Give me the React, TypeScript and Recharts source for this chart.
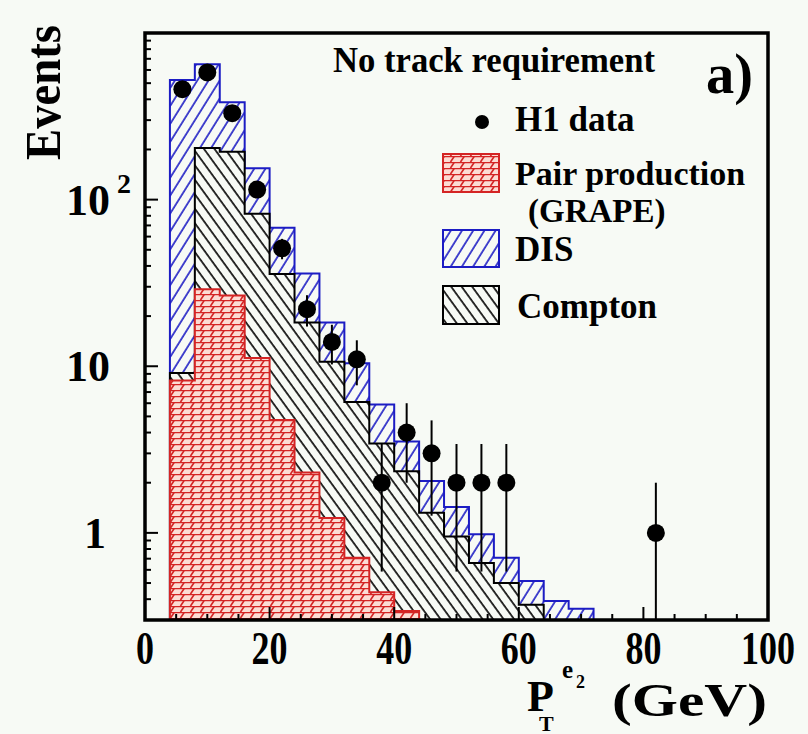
import React from 'react';
import {
  ComposedChart,
  Area,
  Scatter,
  ErrorBar,
  XAxis,
  YAxis,
  ReferenceArea,
} from 'recharts';

const BG = '#f7faf5';
const SERIF = '"Liberation Serif", "Times New Roman", Times, serif';
const BLUE = '#1c1cc4';
const RED = '#d42424';
const Y_MIN = 0.3;
const Y_MAX = 1000;

// Histogram bin edges in P_T (GeV), 4 GeV wide bins
const binEdges = [4, 8, 12, 16, 20, 24, 28, 32, 36, 40, 44, 48, 52, 56, 60, 64, 68, 72];

// Expected events per bin for each simulated process
const pairProduction = [8.2, 29, 26.6, 11.2, 4.75, 2.3, 1.23, 0.71, 0.44, 0.34, 0.24, 0.17, 0.12, 0.08, 0.06, 0.04, 0.03];
const compton = [0.9, 175, 167, 71, 31, 16, 9.4, 5.4, 3.0, 2.0, 1.08, 0.78, 0.54, 0.42, 0.31, 0.24, 0.18];
const dis = [514, 446, 191, 72, 32, 17.7, 7.7, 4.3, 2.45, 1.2, 0.73, 0.48, 0.32, 0.21, 0.145, 0.11, 0.14];

// Measured H1 events (bin centres and counts)
const dataPt = [6, 10, 14, 18, 22, 26, 30, 34, 38, 42, 46, 50, 54, 58, 82];
const dataCounts = [460, 580, 330, 115, 51, 22, 14, 11, 2, 4, 3, 2, 2, 2, 1];

// Axis ticks
const xTicks = [0, 5, 10, 15, 20, 25, 30, 35, 40, 45, 50, 55, 60, 65, 70, 75, 80, 85, 90, 95, 100];
const xMajorTicks = [0, 20, 40, 60, 80, 100];
const yMajorTicks = [1, 10, 100];
const yMinorTicks = [
  0.4, 0.5, 0.6, 0.7, 0.8, 0.9,
  2, 3, 4, 5, 6, 7, 8, 9,
  20, 30, 40, 50, 60, 70, 80, 90,
  200, 300, 400, 500, 600, 700, 800, 900,
];
const yTicks = [...yMinorTicks, ...yMajorTicks].sort((a, b) => a - b);

// Stacked step outlines: red = pair, black = pair + Compton, blue = all three
const histRows: { x: number; red: number; black: number; blue: number }[] = [
  { x: binEdges[0], red: Y_MIN, black: Y_MIN, blue: Y_MIN },
];
pairProduction.forEach((p, i) => {
  const black = p + compton[i];
  histRows.push({ x: binEdges[i], red: p, black, blue: black + dis[i] });
});
histRows.push({ x: binEdges[binEdges.length - 1], red: Y_MIN, black: Y_MIN, blue: Y_MIN });

const points = dataPt.map((x, i) => {
  const n = dataCounts[i];
  const s = Math.sqrt(n);
  return { x, n, err: [n - Math.max(n - s, Y_MIN), s] };
});

function HatchDefs({ prefix }: { prefix: string }) {
  return (
    <defs>
      <pattern id={`${prefix}-blue`} patternUnits="userSpaceOnUse" width={9.5} height={9.5} patternTransform="rotate(32)">
        <rect width={9.5} height={9.5} fill={BG} />
        <line x1={1} y1={0} x2={1} y2={9.5} stroke={BLUE} strokeWidth={1.6} />
      </pattern>
      <pattern id={`${prefix}-black`} patternUnits="userSpaceOnUse" width={8.5} height={8.5} patternTransform="rotate(-36)">
        <rect width={8.5} height={8.5} fill={BG} />
        <line x1={1} y1={0} x2={1} y2={8.5} stroke="#000" strokeWidth={1.6} />
      </pattern>
      <pattern id={`${prefix}-red`} patternUnits="userSpaceOnUse" width={10} height={6}>
        <rect width={10} height={6} fill="#fcdcd4" />
        <line x1={0} y1={0.6} x2={10} y2={0.6} stroke={RED} strokeWidth={1.3} />
        <line x1={0.5} y1={6} x2={4.5} y2={0} stroke={RED} strokeWidth={1.6} />
        <line x1={10.5} y1={6} x2={14.5} y2={0} stroke={RED} strokeWidth={1.6} />
      </pattern>
    </defs>
  );
}

function YTick(props: any) {
  const { x, y, payload } = props;
  const v = payload.value;
  const major = yMajorTicks.includes(v);
  const len = major ? 13 : 6;
  const textProps = {
    fontFamily: SERIF,
    fontWeight: 700,
    fill: '#000',
  };
  return (
    <g>
      <line x1={x} x2={x + len} y1={y} y2={y} stroke="#000" strokeWidth={2} />
      {v === 100 && (
        <>
          <text x={x - 35} y={y + 15} textAnchor="end" fontSize={44} {...textProps}>10</text>
          <text x={x - 28} y={y - 7} fontSize={28} {...textProps}>2</text>
        </>
      )}
      {v === 10 && (
        <text x={x - 35} y={y + 15} textAnchor="end" fontSize={44} {...textProps}>10</text>
      )}
      {v === 1 && (
        <text x={x - 39} y={y + 15} textAnchor="end" fontSize={44} {...textProps}>1</text>
      )}
    </g>
  );
}

function XTick(props: any) {
  const { x, y, payload } = props;
  const v = payload.value;
  const major = xMajorTicks.includes(v);
  const len = major ? 13 : 6;
  const label = String(v);
  return (
    <g>
      <line x1={x} x2={x} y1={y} y2={y - len} stroke="#000" strokeWidth={2} />
      {major && (
        <text
          x={x}
          y={y + 44}
          textAnchor="middle"
          fontSize={47}
          textLength={label.length * 18}
          lengthAdjust="spacingAndGlyphs"
          fontFamily={SERIF}
          fontWeight={700}
          fill="#000"
        >
          {label}
        </text>
      )}
    </g>
  );
}

function DataDot(props: any) {
  const { cx, cy } = props;
  if (cx == null || cy == null) return null;
  return <circle cx={cx} cy={cy} r={9} fill="#000" />;
}

const labelFont = {
  fontFamily: SERIF,
  fontWeight: 700,
  fill: '#000',
};

export default function App() {
  return (
    <div
      style={{
        position: 'absolute',
        left: 0,
        top: 0,
        width: 808,
        height: 734,
        background: BG,
        overflow: 'hidden',
      }}
    >
      <ComposedChart
        width={808}
        height={734}
        data={histRows}
        margin={{ top: 33, right: 40, bottom: 54, left: 0 }}
      >
        <HatchDefs prefix="plot" />
        <XAxis
          type="number"
          dataKey="x"
          domain={[0, 100]}
          ticks={xTicks}
          interval={0}
          allowDataOverflow
          axisLine={false}
          tickLine={false}
          tickSize={0}
          tickMargin={0}
          height={60}
          tick={<XTick />}
        />
        <YAxis
          type="number"
          scale="log"
          domain={[Y_MIN, Y_MAX]}
          ticks={yTicks}
          interval={0}
          allowDataOverflow
          axisLine={false}
          tickLine={false}
          tickSize={0}
          tickMargin={0}
          width={145}
          tick={<YTick />}
        />
        <Area
          type="stepAfter"
          dataKey="blue"
          baseValue={Y_MIN}
          stroke={BLUE}
          strokeWidth={2}
          fill="url(#plot-blue)"
          fillOpacity={1}
          isAnimationActive={false}
          dot={false}
          activeDot={false}
        />
        <Area
          type="stepAfter"
          dataKey="black"
          baseValue={Y_MIN}
          stroke="#000"
          strokeWidth={2}
          fill="url(#plot-black)"
          fillOpacity={1}
          isAnimationActive={false}
          dot={false}
          activeDot={false}
        />
        <Area
          type="stepAfter"
          dataKey="red"
          baseValue={Y_MIN}
          stroke={RED}
          strokeWidth={2}
          fill="url(#plot-red)"
          fillOpacity={1}
          isAnimationActive={false}
          dot={false}
          activeDot={false}
        />
        <Scatter data={points} dataKey="n" shape={<DataDot />} isAnimationActive={false}>
          <ErrorBar dataKey="err" direction="y" width={0} stroke="#000" strokeWidth={2} />
        </Scatter>
        <ReferenceArea
          x1={0}
          x2={100}
          y1={Y_MIN}
          y2={Y_MAX}
          fill="none"
          fillOpacity={0}
          stroke="#000"
          strokeWidth={3.5}
          ifOverflow="visible"
        />
      </ComposedChart>

      <svg
        width={808}
        height={734}
        style={{ position: 'absolute', left: 0, top: 0, pointerEvents: 'none' }}
      >
        <HatchDefs prefix="legend" />
        {/* y axis title */}
        <text
          transform="translate(60 160) rotate(-90)"
          fontSize={50}
          textLength={135}
          lengthAdjust="spacingAndGlyphs"
          {...labelFont}
        >
          Events
        </text>

        {/* x axis title */}
        <text x={527} y={711} fontSize={44} {...labelFont}>P</text>
        <text x={539} y={731} fontSize={22} {...labelFont}>T</text>
        <text x={562} y={678} fontSize={25} {...labelFont}>e</text>
        <text x={576} y={688} fontSize={18} {...labelFont}>2</text>
        <text x={612} y={716} fontSize={46} textLength={155} lengthAdjust="spacingAndGlyphs" {...labelFont}>
          (GeV)
        </text>

        {/* header */}
        <text x={333} y={72} fontSize={35} textLength={322} lengthAdjust="spacingAndGlyphs" {...labelFont}>
          No track requirement
        </text>
        <text x={706} y={93} fontSize={56} textLength={47} lengthAdjust="spacingAndGlyphs" {...labelFont}>
          a)
        </text>

        {/* legend */}
        <circle cx={482} cy={122} r={7} fill="#000" />
        <text x={515} y={131} fontSize={35} {...labelFont}>H1 data</text>

        <rect x={443} y={154} width={56} height={38} fill="url(#legend-red)" stroke={RED} strokeWidth={2} />
        <text x={515} y={185} fontSize={34} {...labelFont}>Pair production</text>
        <text x={528} y={222} fontSize={33} {...labelFont}>(GRAPE)</text>

        <rect x={443} y={230} width={56} height={37} fill="url(#legend-blue)" stroke={BLUE} strokeWidth={2} />
        <text x={515} y={261} fontSize={35} {...labelFont}>DIS</text>

        <rect x={443} y={286} width={56} height={38} fill="url(#legend-black)" stroke="#000" strokeWidth={2} />
        <text x={517} y={318} fontSize={35} {...labelFont}>Compton</text>
      </svg>
    </div>
  );
}
